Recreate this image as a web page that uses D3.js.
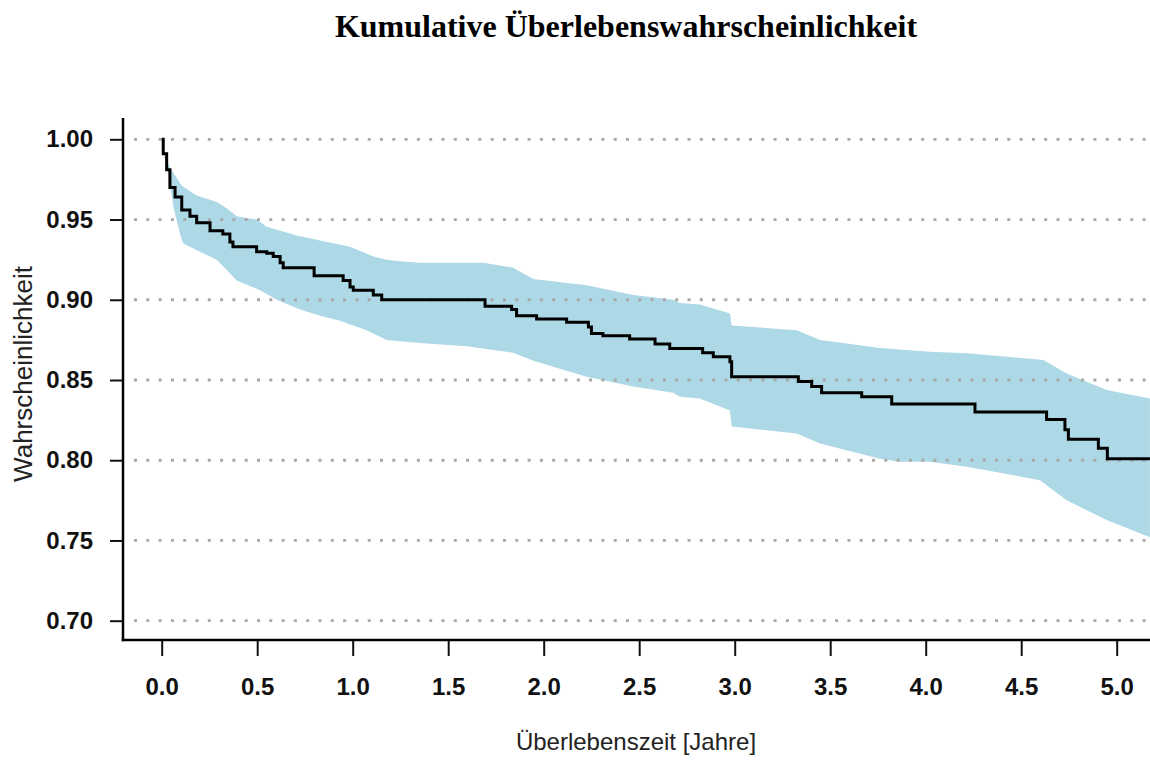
<!DOCTYPE html>
<html>
<head>
<meta charset="utf-8">
<script src="https://cdn.jsdelivr.net/npm/d3@7"></script>
<style>
  body { margin: 0; background: #fff; }
  svg { display: block; }
</style>
</head>
<body>
<svg id="chart" width="1150" height="765"></svg>
<script>
// Kaplan-Meier curve (step function)
var kmTimes = [0, 0.008, 0.026, 0.043, 0.07, 0.105, 0.148, 0.183, 0.253, 0.32, 0.357, 0.373,
  0.497, 0.55, 0.584, 0.62, 0.636, 0.798, 0.95, 0.986, 1.003, 1.108, 1.152, 1.693, 1.832,
  1.858, 1.963, 2.12, 2.234, 2.25, 2.31, 2.45, 2.583, 2.66, 2.832, 2.888, 2.975, 2.984,
  3.333, 3.403, 3.455, 3.665, 3.822, 4.258, 4.633, 4.729, 4.747, 4.904, 4.951, 5.174];
var kmValues = [1.000, 0.991, 0.981, 0.970, 0.964, 0.956, 0.952, 0.948, 0.943, 0.941, 0.936, 0.933,
  0.930, 0.929, 0.927, 0.923, 0.920, 0.915, 0.912, 0.908, 0.906, 0.903, 0.900, 0.896, 0.894,
  0.890, 0.888, 0.886, 0.883, 0.879, 0.8776, 0.8755, 0.8724, 0.8697, 0.867, 0.8645, 0.8614, 0.852,
  0.849, 0.846, 0.842, 0.8395, 0.835, 0.830, 0.8254, 0.819, 0.813, 0.8074, 0.801, 0.801];

// confidence band, upper edge
var upperTimes = [0, 0.02, 0.04, 0.105, 0.183, 0.288, 0.34, 0.393, 0.497, 0.55, 0.707, 0.829,
  0.986, 1.108, 1.178, 1.248, 1.352, 1.684, 1.84, 1.946, 2.225, 2.469, 2.678, 2.714, 2.818,
  2.975, 2.984, 3.325, 3.447, 3.76, 3.866, 4.02, 4.215, 4.616, 4.738, 4.948, 5.174];
var upperValues = [1.0, 0.99, 0.983, 0.971, 0.965, 0.961, 0.957, 0.952, 0.950, 0.9455, 0.940, 0.937,
  0.933, 0.927, 0.925, 0.924, 0.923, 0.923, 0.920, 0.913, 0.909, 0.903, 0.900, 0.898, 0.897,
  0.8915, 0.884, 0.881, 0.875, 0.870, 0.869, 0.8676, 0.8666, 0.8625, 0.854, 0.8437, 0.8385];

// confidence band, lower edge
var lowerTimes = [0, 0.02, 0.035, 0.061, 0.096, 0.113, 0.2, 0.288, 0.357, 0.393, 0.515, 0.602,
  0.724, 0.829, 0.933, 1.073, 1.178, 1.352, 1.597, 1.84, 1.946, 2.225, 2.469, 2.678, 2.714,
  2.818, 2.975, 2.984, 3.325, 3.447, 3.76, 3.866, 4.02, 4.215, 4.598, 4.738, 4.948, 5.174];
var lowerValues = [1.0, 0.985, 0.979, 0.958, 0.941, 0.935, 0.930, 0.925, 0.9165, 0.912, 0.906, 0.900,
  0.894, 0.890, 0.887, 0.881, 0.875, 0.873, 0.871, 0.867, 0.862, 0.852, 0.846, 0.842, 0.8395,
  0.8385, 0.831, 0.821, 0.8167, 0.8105, 0.801, 0.799, 0.799, 0.796, 0.7876, 0.775, 0.7627, 0.752];

var xTicks = [0, 0.5, 1, 1.5, 2, 2.5, 3, 3.5, 4, 4.5, 5];
var yTicks = [0.70, 0.75, 0.80, 0.85, 0.90, 0.95, 1.00];

var titleText = "Kumulative Überlebenswahrscheinlichkeit";
var xTitle = "Überlebenszeit [Jahre]";
var yTitle = "Wahrscheinlichkeit";

var svg = d3.select("#chart");
var axisX0 = 123, axisY0 = 640, plotTop = 118, plotRight = 1150;

var x = d3.scaleLinear().domain([0, 5]).range([161.7, 1116.7]);
var y = d3.scaleLinear().domain([0.70, 1.00]).range([620.7, 139.3]);

svg.append("defs").append("clipPath").attr("id", "plotclip")
  .append("rect").attr("x", axisX0).attr("y", plotTop)
  .attr("width", plotRight - axisX0).attr("height", axisY0 - plotTop);

var plot = svg.append("g").attr("clip-path", "url(#plotclip)");

// band polygon: upper edge forward, lower edge back
var bandPts = upperTimes.map((t, i) => [t, upperValues[i]])
  .concat(lowerTimes.map((t, i) => [t, lowerValues[i]]).reverse());
plot.append("path")
  .attr("d", d3.line().x(d => x(d[0])).y(d => y(d[1]))(bandPts) + "Z")
  .attr("fill", "#add8e6");

// dotted grid
plot.selectAll(".grid").data(yTicks).enter().append("line")
  .attr("class", "grid")
  .attr("x1", axisX0 + 11).attr("x2", plotRight)
  .attr("y1", d => y(d)).attr("y2", d => y(d))
  .attr("stroke", "#a8a8a8").attr("stroke-width", 2.8)
  .attr("stroke-dasharray", "3,9.3");

// survival step line
var kmPts = kmTimes.map((t, i) => [t, kmValues[i]]);
plot.append("path")
  .attr("d", d3.line().x(d => x(d[0])).y(d => y(d[1])).curve(d3.curveStepAfter)(kmPts))
  .attr("fill", "none").attr("stroke", "#000").attr("stroke-width", 3);

// axes
var yAxis = d3.axisLeft(y).tickValues(yTicks).tickFormat(d3.format(".2f")).tickSize(13).tickPadding(17);
var xAxis = d3.axisBottom(x).tickValues(xTicks).tickFormat(d3.format(".1f")).tickSize(16).tickPadding(22);

var gy = svg.append("g").attr("transform", "translate(" + axisX0 + ",0)").call(yAxis);
var gx = svg.append("g").attr("transform", "translate(0," + axisY0 + ")").call(xAxis);

[gx, gy].forEach(g => {
  g.select(".domain").remove();
  g.selectAll(".tick line").attr("stroke", "#111").attr("stroke-width", 2);
  g.selectAll("text").attr("fill", "#111")
    .style("font-family", "'Liberation Sans', Arial, sans-serif")
    .style("font-size", "24px").style("font-weight", "bold");
});

svg.append("line").attr("x1", axisX0).attr("x2", axisX0)
  .attr("y1", plotTop).attr("y2", axisY0 + 1.25)
  .attr("stroke", "#000").attr("stroke-width", 2.5);
svg.append("line").attr("x1", axisX0 - 1.25).attr("x2", plotRight)
  .attr("y1", axisY0).attr("y2", axisY0)
  .attr("stroke", "#000").attr("stroke-width", 2.5);

// titles
svg.append("text").attr("x", 626).attr("y", 37)
  .attr("text-anchor", "middle")
  .style("font-family", "'Liberation Serif', 'Times New Roman', serif")
  .style("font-size", "32px").style("font-weight", "bold")
  .text(titleText);

svg.append("text").attr("x", 636).attr("y", 750)
  .attr("text-anchor", "middle").attr("fill", "#222")
  .style("font-family", "'Liberation Sans', Arial, sans-serif")
  .style("font-size", "24px")
  .text(xTitle);

svg.append("text")
  .attr("transform", "translate(32,374) rotate(-90)")
  .attr("text-anchor", "middle").attr("fill", "#222")
  .style("font-family", "'Liberation Sans', Arial, sans-serif")
  .style("font-size", "26px")
  .text(yTitle);
</script>
</body>
</html>
